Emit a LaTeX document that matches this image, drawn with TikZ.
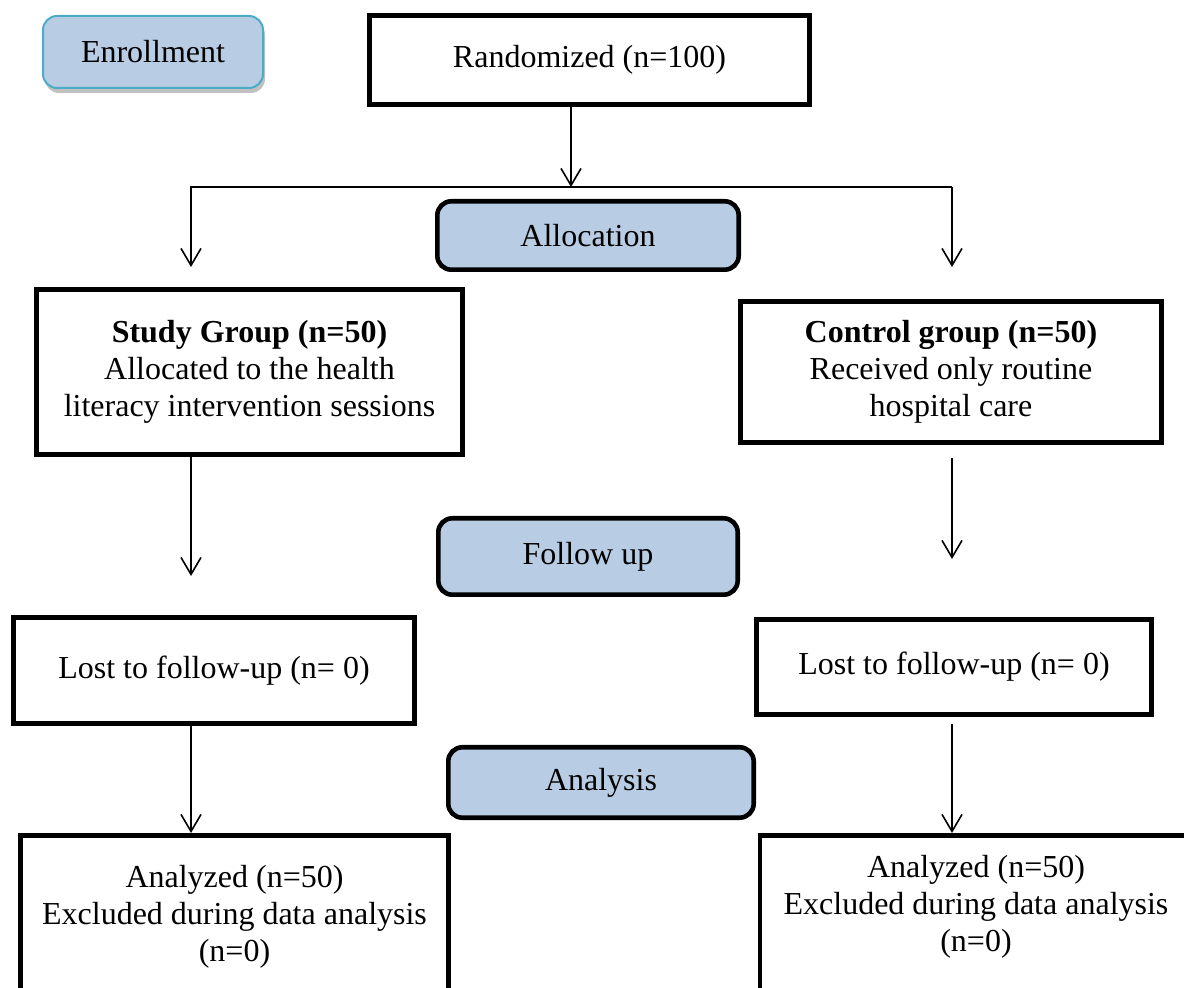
\documentclass[tikz,border=0pt]{standalone}
\usepackage{fontspec}
\setmainfont{Liberation Serif}
\usetikzlibrary{positioning,shapes,arrows.meta,calc,shadows}
\definecolor{stageblue}{HTML}{B8CCE4}
\definecolor{enrolledge}{HTML}{4BACC6}

\begin{document}
\begin{tikzpicture}[x=0.5pt, y=-0.5pt,
    every node/.style={font=\fontsize{16}{18.4}\selectfont, align=center},
    box/.style={draw, line width=2.3pt, inner sep=0pt},
    stage/.style={draw, line width=2.3pt, rounded corners=7pt, fill=stageblue, inner sep=0pt},
    endbox/.style={draw, line width=2.3pt, inner xsep=0pt, anchor=north},
    arr/.style={-{Straight Barb[length=8.5pt,width=10pt]}, line width=0.8pt}]
    \useasboundingbox (0,0) rectangle (1184,988);

    % stage labels
    \node[draw=enrolledge, line width=1pt, rounded corners=7pt, fill=stageblue,
          minimum width=110pt, minimum height=36pt,
          drop shadow={shadow xshift=1pt, shadow yshift=-2.5pt, opacity=0.35, fill=black!70}]
          (enroll) at (153,52) {Enrollment};
    \node[stage, minimum width=150.7pt, minimum height=34.2pt] (alloc) at (588,235.5) {Allocation};
    \node[stage, minimum width=149.7pt, minimum height=38.2pt] (follow) at (588,556.5) {Follow up};
    \node[stage, minimum width=152.7pt, minimum height=35.2pt] (analysis) at (601,782.5) {Analysis};

    % boxes
    \node[box, minimum width=220pt, minimum height=44.7pt] (rand) at (589.5,60) {Randomized (n=100)};
    \node[box, minimum width=213.2pt, minimum height=82.7pt] (study) at (249.5,372)
        {\textbf{Study Group (n=50)}\\Allocated to the health\\literacy intervention sessions};
    \node[box, minimum width=210.7pt, minimum height=70.7pt] (control) at (951,372)
        {\textbf{Control group (n=50)}\\Received only routine\\hospital care};
    \node[box, minimum width=200.7pt, minimum height=53.2pt] (lostL) at (214,670.5) {Lost to follow-up (n= 0)};
    \node[box, minimum width=197.7pt, minimum height=47.7pt] (lostR) at (954,667) {Lost to follow-up (n= 0)};
    \node[endbox, minimum width=214.2pt, inner ysep=15pt] (anaL) at (234.5,833)
        {Analyzed (n=50)\\Excluded during data analysis\\(n=0)\rule[-40pt]{0pt}{40pt}};
    \node[endbox, minimum width=216pt, inner ysep=10pt] (anaR) at (976,833)
        {Analyzed (n=50)\\Excluded during data analysis\\(n=0)\rule[-40pt]{0pt}{40pt}};

    \coordinate (split) at (571,187);
    \coordinate (splitL) at (191,187);
    \coordinate (splitR) at (952,187);

    % connectors
    \draw[arr] (rand.south -| split) -- (split);
    \draw[arr, shorten >=10pt] (splitR) -- (splitL) -- (splitL |- study.north);
    \draw[arr, shorten >=16pt] (splitR) -- (splitR |- control.north);
    \draw[arr, shorten >=19.5pt] (study.south -| splitL) -- (lostL.north -| splitL);
    \draw[arr, shorten <=6.5pt, shorten >=29pt] (control.south -| splitR) -- (lostR.north -| splitR);
    \draw[arr] (lostL.south -| splitL) -- (anaL.north -| splitL);
    \draw[arr, shorten <=3.5pt] (lostR.south -| splitR) -- (anaR.north -| splitR);
\end{tikzpicture}
\end{document}
